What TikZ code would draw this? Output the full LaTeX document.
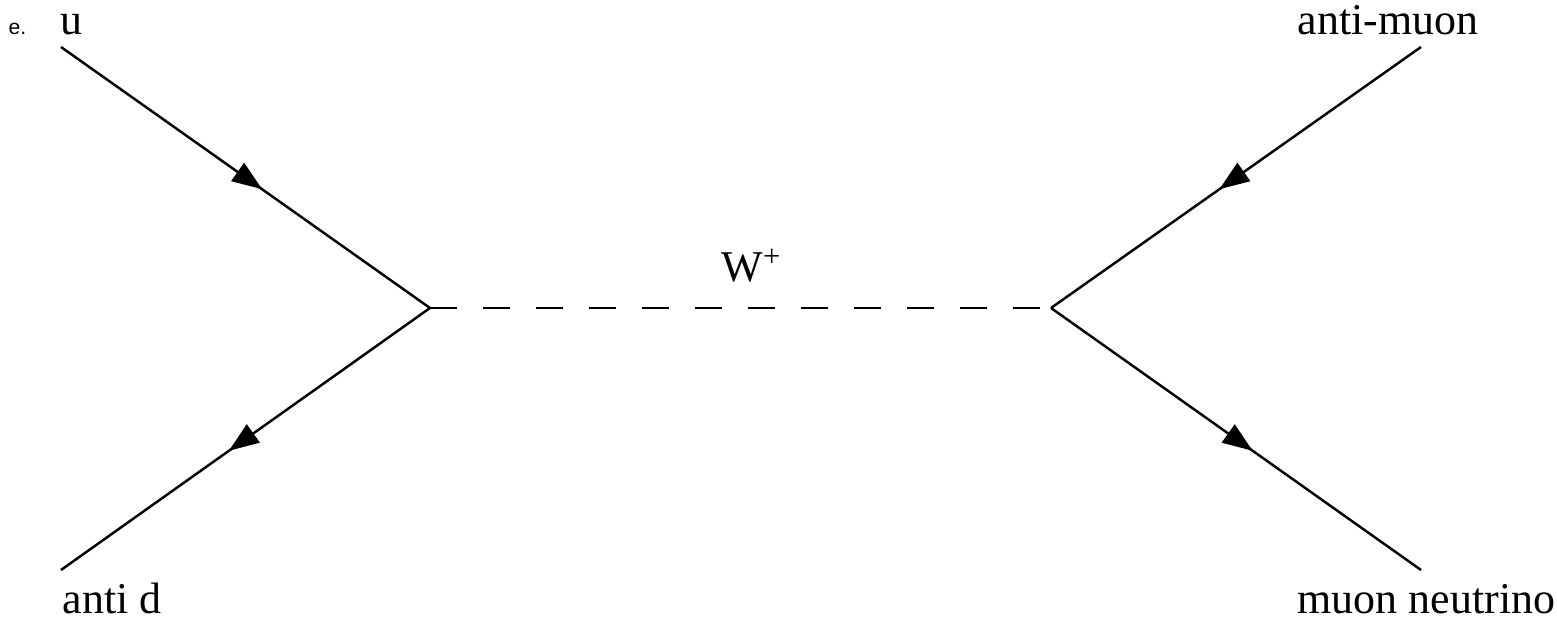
\documentclass[tikz,border=0pt]{standalone}
\usepackage{fontspec}
\setmainfont{Liberation Serif}
\newfontfamily\itemfont{Liberation Sans}
\usepackage{tikz}
\usetikzlibrary{arrows.meta}
\usetikzlibrary{decorations.markings}

\begin{document}
\begin{tikzpicture}[
        fermion/.style={line width=0.7pt, postaction={decorate},
            decoration={markings, mark=at position 0.545 with {\arrow{Triangle[length=3mm, width=2.2mm]}}}},
        boson/.style={line width=0.7pt, dash pattern=on 2.7mm off 2.6mm},
        particle/.style={inner sep=0pt, anchor=base west, font=\fontsize{12.5}{15}\selectfont}
    ]

        \useasboundingbox (0,0) rectangle (15.57,6.18);

        % vertices and external legs
        \coordinate (vin) at (4.30,3.10);
        \coordinate (vout) at (10.51,3.10);
        \coordinate (uq) at (0.61,5.71);
        \coordinate (dbar) at (0.61,0.48);
        \coordinate (mubar) at (14.21,5.71);
        \coordinate (numu) at (14.21,0.48);

        \draw[fermion] (uq) -- (vin);
        \draw[fermion] (vin) -- (dbar);
        \draw[fermion] (mubar) -- (vout);
        \draw[fermion] (vout) -- (numu);

        \draw[boson] (vin) -- (vout);

        % labels
        \node[inner sep=0pt, anchor=base west, font=\itemfont\fontsize{6}{7}\selectfont] (item) at (0.08,5.83) {e.};
        \node[particle] (uqlabel) at (0.60,5.83) {u};
        \node[particle] (dbarlabel) at (0.62,0.05) {anti d};
        \node[particle] (mubarlabel) at (12.97,5.83) {anti-muon};
        \node[particle] (numulabel) at (12.97,0.05) {muon neutrino};
        \node[particle] (wlabel) at (7.21,3.36) {W\textsuperscript{+}};

\end{tikzpicture}
\end{document}
